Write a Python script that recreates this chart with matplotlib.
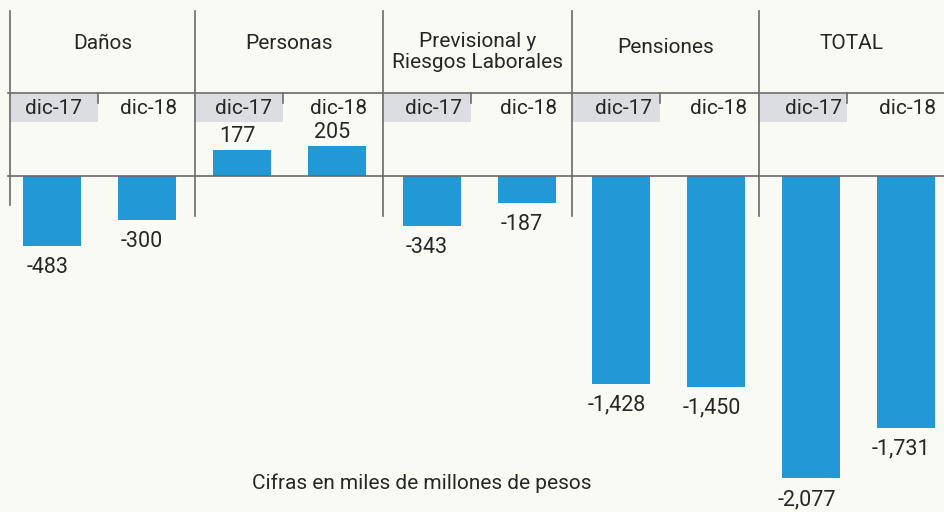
import matplotlib.pyplot as plt
import numpy as np

plt.rcParams['font.family'] = ['Roboto', 'DejaVu Sans']

# data
groups = ['Daños', 'Personas', 'Previsional y\nRiesgos Laborales', 'Pensiones', 'TOTAL']
periods = ['dic-17', 'dic-18']
values = [-483, -300, 177, 205, -343, -187, -1428, -1450, -2077, -1731]
footer = 'Cifras en miles de millones de pesos'

W, H = 944, 512
bar_col = '#2299d6'
line_col = '#6a6a6a'
txt_col = '#262626'
box_col = '#dcdde0'

# pixel helpers (layout only)
x0, dx = 52, 94.9          # pixel of first bar centre, spacing
y0, sy = 176, 0.1454       # baseline pixel, px per unit


def px(p):
    return (p - x0) / dx


def py(p):
    return (y0 - p) / sy


fig = plt.figure(figsize=(W / 100, H / 100), dpi=100)
fig.patch.set_facecolor('#fafaf5')
ax = fig.add_axes([0, 0, 1, 1])
ax.set_facecolor('#fafaf5')
ax.set_xlim(px(0), px(W))
ax.set_ylim(py(H), py(0))
ax.axis('off')

xs = np.arange(len(values))
ax.bar(xs, values, width=58 / dx, color=bar_col, zorder=2)

# header grid
seps = [10, 195, 383, 572, 759]
for i, s in enumerate(seps):
    bottom = 205 if i == 0 else 216
    ax.plot([px(s), px(s)], [py(11), py(bottom)], color=line_col, lw=1.2, zorder=3)
    # grey box behind dic-17
    ax.fill_between([px(s - 1), px(s + 88)], py(94), py(122), color=box_col, lw=0, zorder=1)
    ax.plot([px(s + 88), px(s + 88)], [py(93), py(103)], color=line_col, lw=1.2, zorder=3)

ax.plot([px(8), px(W)], [py(93), py(93)], color=line_col, lw=1.2, zorder=3)
ax.plot([px(8), px(W)], [py(176), py(176)], color=line_col, lw=1.2, zorder=3)

# group titles
ends = seps + [W]
title_y = [44, 44, 52, 48, 44]
for i, g in enumerate(groups):
    cx = px((ends[i] + ends[i + 1]) / 2)
    ax.text(cx, py(title_y[i]), g, ha='center', va='center', fontsize=15,
            color=txt_col, linespacing=1.15)

# period labels
for i in xs:
    ax.text(i + 0.02, py(109), periods[i % 2], ha='center', va='center', fontsize=15, color=txt_col)

# value labels
for i, v in zip(xs, values):
    if v >= 0:
        ax.text(i - 0.05, v + 3 / sy, f'{v:,}', ha='center', va='bottom', fontsize=15.5, color=txt_col)
    else:
        ax.text(i - 0.05, v - 11 / sy, f'{v:,}', ha='center', va='top', fontsize=15.5, color=txt_col)

ax.text(px(422), py(483), footer, ha='center', va='center', fontsize=15, color=txt_col)

fig.savefig('out.png', dpi=100, facecolor=fig.get_facecolor())
